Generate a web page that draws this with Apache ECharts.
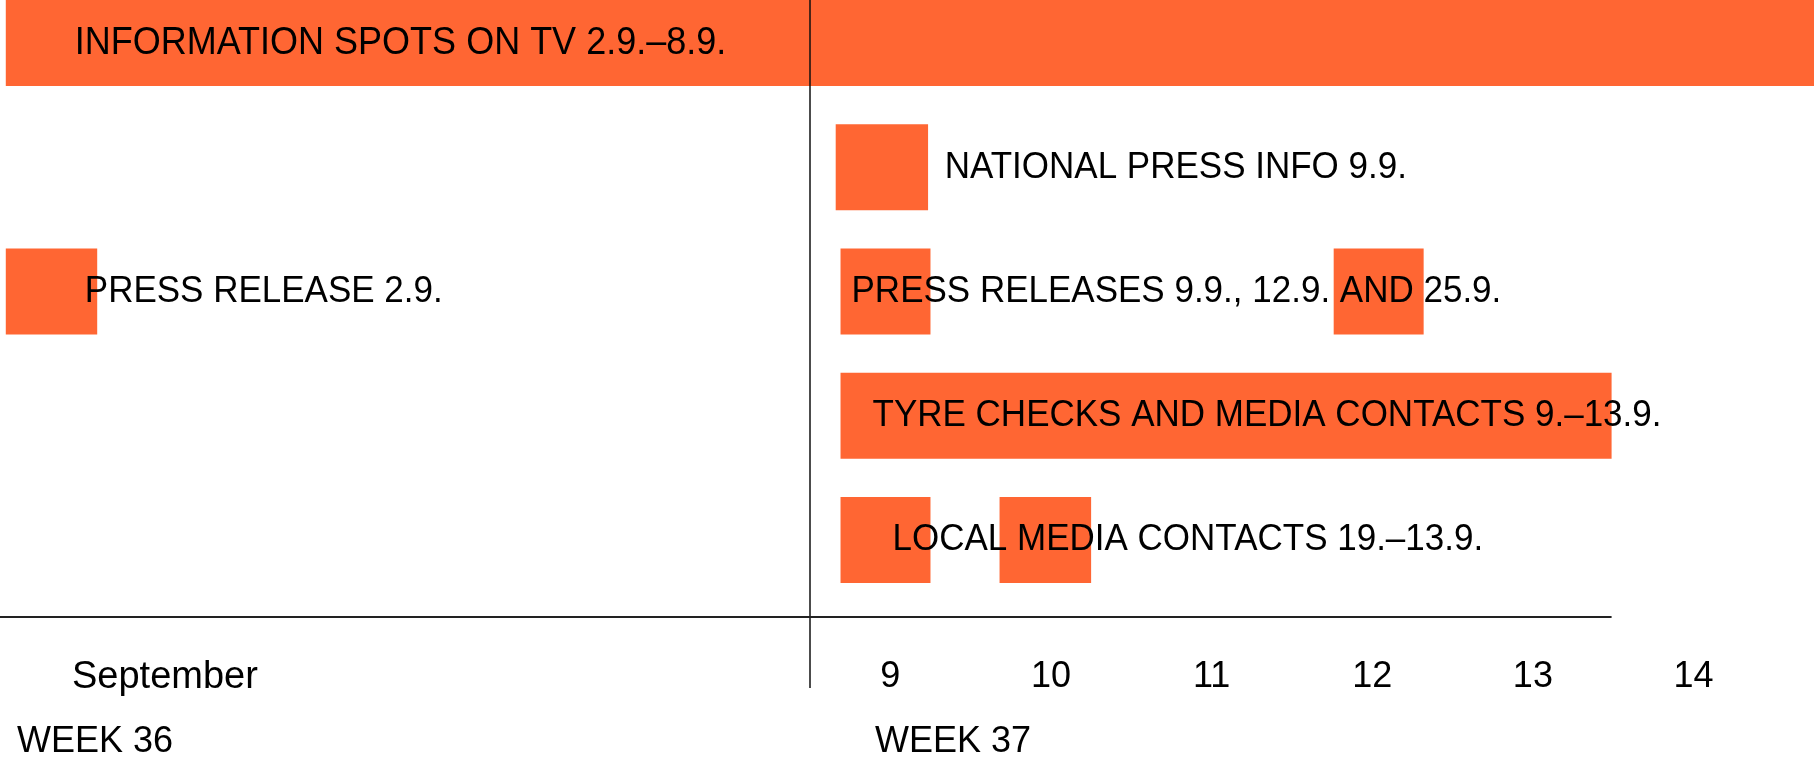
<!DOCTYPE html>
<html>
<head>
<meta charset="utf-8">
<script src="https://cdn.jsdelivr.net/npm/echarts@6/dist/echarts.min.js"></script>
<style>
  html, body { margin: 0; padding: 0; background: #fff; }
  #chart { width: 1814px; height: 758px; }
</style>
</head>
<body>
<div id="chart"></div>
<script>
// ---------- DATA ----------
const rows = [
  'INFORMATION SPOTS ON TV 2.9.–8.9.',
  'NATIONAL PRESS INFO 9.9.',
  'PRESS RELEASES 9.9., 12.9. AND 25.9.',
  'TYRE CHECKS AND MEDIA CONTACTS 9.–13.9.',
  'LOCAL MEDIA CONTACTS 19.–13.9.'
];
// [row index, start (day), end (day)]
const week36Bars = [
  [0, 1.55, 8.5],
  [2, 1.55, 2.34]
];
const week37Bars = [
  [0, 8.5, 14.75],
  [1, 8.66, 9.235],
  [2, 8.69, 9.25],
  [2, 11.76, 12.32],
  [3, 8.69, 13.49],
  [4, 8.69, 9.25],
  [4, 9.68, 10.25]
];
// [row index, week (0 = week 36, 1 = week 37), text]
const barTexts = [
  [0, 0, 'INFORMATION SPOTS ON TV 2.9.–8.9.'],
  [2, 0, 'PRESS RELEASE 2.9.'],
  [1, 1, 'NATIONAL PRESS INFO 9.9.'],
  [2, 1, 'PRESS RELEASES 9.9., 12.9. AND 25.9.'],
  [3, 1, 'TYRE CHECKS AND MEDIA CONTACTS 9.–13.9.'],
  [4, 1, 'LOCAL MEDIA CONTACTS 19.–13.9.']
];
const dayTicks = [9, 10, 11, 12, 13, 14];
const monthLabel = 'September';
const weekLabels = ['WEEK 36', 'WEEK 37'];

// ---------- STYLE ----------
const ORANGE = '#FF6633';
const FONT = "'Liberation Sans', Arial, sans-serif";
const BAR_H = 86;
// pixel offset of each text from the start of the first bar in its row/week
const textOffsets = { '0-0': 69, '2-0': 79, '1-1': 109, '2-1': 11, '3-1': 32, '4-1': 52 };
const textSizes = { '0-0': 36 };

const chart = echarts.init(document.getElementById('chart'), null, { renderer: 'canvas' });

function barItem(params, api) {
  const row = api.value(0);
  const s = api.coord([api.value(1), row]);
  const e = api.coord([api.value(2), row]);
  return {
    type: 'rect',
    shape: { x: s[0], y: s[1] - BAR_H / 2, width: e[0] - s[0], height: BAR_H },
    style: { fill: ORANGE }
  };
}

function textData(week, bars) {
  return barTexts.filter(t => t[1] === week).map(t => {
    const starts = bars.filter(b => b[0] === t[0]).map(b => b[1]);
    return { value: [t[0], Math.min.apply(null, starts), 0], name: t[2], key: t[0] + '-' + week };
  });
}

function textItem(data) {
  return function (params, api) {
    const d = data[params.dataIndex];
    const p = api.coord([api.value(1), api.value(0)]);
    return {
      type: 'text',
      x: p[0] + (textOffsets[d.key] || 0),
      y: p[1],
      scaleY: 1.08,
      z2: 10,
      style: {
        text: d.name,
        fill: '#000',
        fontSize: textSizes[d.key] || 35,
        fontFamily: FONT,
        align: 'left',
        verticalAlign: 'middle'
      }
    };
  };
}

const t36 = textData(0, week36Bars);
const t37 = textData(1, week37Bars);

const yAxisCommon = {
  type: 'category', data: rows, inverse: true, boundaryGap: false, show: false
};

const option = {
  animation: false,
  backgroundColor: '#fff',
  grid: [
    { left: 0, width: 810, top: 43, height: 497, containLabel: false },
    { left: 810, right: 0, top: 43, height: 497, containLabel: false }
  ],
  xAxis: [
    {
      type: 'value', gridIndex: 0, min: 1.5, max: 8.5,
      axisLine: { show: false }, axisTick: { show: false }, splitLine: { show: false },
      axisLabel: { show: false }
    },
    {
      type: 'value', gridIndex: 1, min: 8.5, max: 14.75,
      axisLine: { show: false }, axisTick: { show: false }, splitLine: { show: false },
      axisLabel: {
        customValues: dayTicks, margin: 119, fontSize: 36, fontFamily: FONT, color: '#000',
        formatter: v => String(v)
      }
    }
  ],
  yAxis: [
    Object.assign({ gridIndex: 0 }, yAxisCommon),
    Object.assign({ gridIndex: 1 }, yAxisCommon)
  ],
  series: [
    { type: 'custom', xAxisIndex: 0, yAxisIndex: 0, data: week36Bars, encode: { x: [1, 2], y: 0 }, renderItem: barItem, silent: true },
    { type: 'custom', xAxisIndex: 1, yAxisIndex: 1, data: week37Bars, encode: { x: [1, 2], y: 0 }, renderItem: barItem, silent: true },
    { type: 'custom', xAxisIndex: 0, yAxisIndex: 0, data: t36, encode: { x: 1, y: 0 }, renderItem: textItem(t36), silent: true, z: 5 },
    { type: 'custom', xAxisIndex: 1, yAxisIndex: 1, data: t37, encode: { x: 1, y: 0 }, renderItem: textItem(t37), silent: true, z: 5 }
  ]
};
chart.setOption(option);

// separator lines and bottom texts, positioned through the axes
const xSep = chart.convertToPixel({ xAxisIndex: 1 }, 8.5);
const lastEnd = Math.max.apply(null, week37Bars.filter(b => b[0] !== 0).map(b => b[2]));
const xEnd = chart.convertToPixel({ xAxisIndex: 1 }, lastEnd);

chart.setOption({
  graphic: [
    { type: 'line', z: 100, shape: { x1: xSep, y1: 0, x2: xSep, y2: 688 }, style: { stroke: '#111', lineWidth: 1.5 } },
    { type: 'line', z: 100, shape: { x1: 0, y1: 617, x2: xEnd, y2: 617 }, style: { stroke: '#222', lineWidth: 2 } },
    { type: 'text', z: 100, x: 72, y: 678, style: { text: monthLabel, fontSize: 38, fontFamily: FONT, fill: '#000', verticalAlign: 'middle' } },
    { type: 'text', z: 100, x: 17, y: 742, style: { text: weekLabels[0], fontSize: 36, fontFamily: FONT, fill: '#000', verticalAlign: 'middle' } },
    { type: 'text', z: 100, x: 875, y: 742, style: { text: weekLabels[1], fontSize: 36, fontFamily: FONT, fill: '#000', verticalAlign: 'middle' } }
  ]
});
</script>
</body>
</html>
